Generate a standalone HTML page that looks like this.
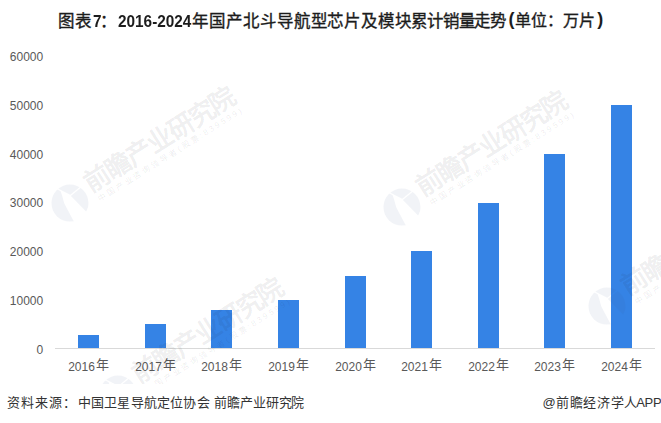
<!DOCTYPE html>
<html lang="zh-CN">
<head>
<meta charset="utf-8">
<style>
html,body{margin:0;padding:0;background:#fff;}
body{width:661px;height:423px;position:relative;overflow:hidden;font-family:"Liberation Sans",sans-serif;}
.a{position:absolute;white-space:nowrap;}
.t{font-weight:bold;color:#1c1c1c;line-height:20px;top:10.5px;}
.tc{font-size:16.5px;font-weight:400;-webkit-text-stroke:0.35px #1c1c1c;}
.tl{font-size:16.5px;transform:scaleX(0.93);transform-origin:0 0;}
.yl{right:617.8px;font-size:12px;color:#595959;line-height:14px;}
.xd{font-size:12px;color:#595959;line-height:14px;}
.xn{font-size:13px;color:#595959;line-height:14px;}
.bar{position:absolute;width:21px;background:#3583e5;}
.wl{position:absolute;overflow:visible;}
.wt{position:absolute;width:200px;height:26px;transform-origin:13px 12px;transform:rotate(-32.2deg);white-space:nowrap;}
.wb{font-size:26px;line-height:26px;font-weight:bold;color:rgba(30,30,40,0.08);letter-spacing:-1.35px;}
.ws{position:absolute;left:3px;top:26.5px;font-size:8px;line-height:9px;color:rgba(30,30,40,0.09);letter-spacing:2.4px;}
#wm{position:absolute;left:0;top:0;width:661px;height:384px;overflow:hidden;}
#axis{position:absolute;left:55px;top:348px;width:600px;height:1px;background:#d9d9d9;}
.f{font-size:13px;color:#333;line-height:20px;top:393px;font-weight:300;}
</style>
</head>
<body>
<svg width="0" height="0" style="position:absolute"><defs><mask id="lm" maskUnits="userSpaceOnUse" x="0" y="0" width="402" height="423"><circle cx="200" cy="212" r="195" fill="#fff"/><polygon points="100,80 205,132 370,300 402,240 402,423 250,423 140,215 125,160" fill="#000"/><polyline points="55,55 205,132 330,30" fill="none" stroke="#000" stroke-width="13"/></mask><g id="lg"><rect x="0" y="0" width="402" height="423" fill="rgba(50,80,140,0.07)" mask="url(#lm)"/></g></defs></svg>
<div class="a t tc" style="left:57.9px">图表</div>
<div class="a t tl" style="left:92.5px">7</div>
<div class="a t tc" style="left:99.8px">：</div>
<div class="a t tl" style="left:117.6px">2016-2024</div>
<div class="a t tc" style="left:192.3px;letter-spacing:-0.1px">年国产北斗导航型芯片及模块</div>
<div class="a t tc" style="left:411px;letter-spacing:-1.14px">累计销量走势</div>
<div class="a t" style="left:508.5px;top:8.5px;font-size:18px">(</div>
<div class="a t tc" style="left:515.2px;font-size:16px">单位：万片</div>
<div class="a t" style="left:597.3px;top:8.5px;font-size:18px">)</div>
<div class="a yl" style="top:50px">60000</div>
<div class="a yl" style="top:99px">50000</div>
<div class="a yl" style="top:148px">40000</div>
<div class="a yl" style="top:196px">30000</div>
<div class="a yl" style="top:245px">20000</div>
<div class="a yl" style="top:294px">10000</div>
<div class="a yl" style="top:343px">0</div>
<div class="bar" style="left:78px;top:335px;height:13px"></div>
<div class="bar" style="left:145px;top:324px;height:24px"></div>
<div class="bar" style="left:211px;top:310px;height:38px"></div>
<div class="bar" style="left:278px;top:300px;height:48px"></div>
<div class="bar" style="left:345px;top:276px;height:72px"></div>
<div class="bar" style="left:411px;top:251px;height:97px"></div>
<div class="bar" style="left:478px;top:203px;height:145px"></div>
<div class="bar" style="left:544px;top:154px;height:194px"></div>
<div class="bar" style="left:611px;top:105px;height:243px"></div>
<div id="axis"></div>
<div class="a xd" style="left:68.15px;top:360px">2016</div>
<div class="a xn" style="left:95.85px;top:358px">年</div>
<div class="a xd" style="left:135.15px;top:360px">2017</div>
<div class="a xn" style="left:162.85px;top:358px">年</div>
<div class="a xd" style="left:201.15px;top:360px">2018</div>
<div class="a xn" style="left:228.85px;top:358px">年</div>
<div class="a xd" style="left:268.15px;top:360px">2019</div>
<div class="a xn" style="left:295.85px;top:358px">年</div>
<div class="a xd" style="left:335.15px;top:360px">2020</div>
<div class="a xn" style="left:362.85px;top:358px">年</div>
<div class="a xd" style="left:401.15px;top:360px">2021</div>
<div class="a xn" style="left:428.85px;top:358px">年</div>
<div class="a xd" style="left:468.15px;top:360px">2022</div>
<div class="a xn" style="left:495.85px;top:358px">年</div>
<div class="a xd" style="left:534.15px;top:360px">2023</div>
<div class="a xn" style="left:561.85px;top:358px">年</div>
<div class="a xd" style="left:601.15px;top:360px">2024</div>
<div class="a xn" style="left:628.85px;top:358px">年</div>
<div id="wm">
<svg class="wl" style="left:50.73px;top:183.49px" width="38.14" height="40.13" viewBox="0 0 402 423"><use href="#lg"/></svg>
<div class="wt" style="left:83.90px;top:166.10px"><div class="wb">前瞻产业研究院</div><div class="ws">中国产业咨询领导者(股票:839599)</div></div>
<svg class="wl" style="left:383.03px;top:187.09px" width="38.14" height="40.13" viewBox="0 0 402 423"><use href="#lg"/></svg>
<div class="wt" style="left:416.20px;top:169.70px"><div class="wb">前瞻产业研究院</div><div class="ws">中国产业咨询领导者(股票:839599)</div></div>
<svg class="wl" style="left:99.03px;top:373.89px" width="38.14" height="40.13" viewBox="0 0 402 423"><use href="#lg"/></svg>
<div class="wt" style="left:132.20px;top:356.50px"><div class="wb">前瞻产业研究院</div><div class="ws">中国产业咨询领导者(股票:839599)</div></div>
<svg class="wl" style="left:588.03px;top:285.89px" width="38.14" height="40.13" viewBox="0 0 402 423"><use href="#lg"/></svg>
<div class="wt" style="left:621.20px;top:268.50px"><div class="wb">前瞻产业研究院</div><div class="ws">中国产业咨询领导者(股票:839599)</div></div>
</div>
<div class="a f" style="left:7px;letter-spacing:0.9px">资料来源：</div>
<div class="a f" style="left:77.8px;letter-spacing:0.2px">中国卫星导航定位协会</div>
<div class="a f" style="left:214.3px;letter-spacing:-0.15px">前瞻产业研究院</div>
<div class="a f" style="left:542.5px">@</div>
<div class="a f" style="left:556.3px;letter-spacing:0.6px">前瞻经济学人</div>
<div class="a f" style="left:636.2px;letter-spacing:-0.3px">APP</div>
</body>
</html>
